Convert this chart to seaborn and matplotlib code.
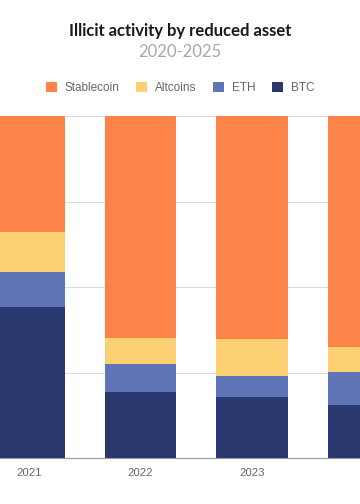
import numpy as np
import pandas as pd
import matplotlib
matplotlib.use("Agg")
import matplotlib.pyplot as plt
import seaborn as sns
from matplotlib.patches import Patch

# data (share of illicit volume, %)
years = ["2021", "2022", "2023", "2024"]
btc = [44.2, 19.4, 17.7, 15.5]
eth = [10.3, 8.2, 6.4, 9.6]
altcoins = [11.7, 7.6, 10.7, 7.5]
stablecoin = [33.8, 64.8, 65.1, 67.4]

series = ["Stablecoin", "Altcoins", "ETH", "BTC"]
colors = {"Stablecoin": "#FC8449", "Altcoins": "#FBCF72", "ETH": "#6075B8", "BTC": "#2A3870"}

df = pd.DataFrame({"year": years, "BTC": btc, "ETH": eth,
                   "Altcoins": altcoins, "Stablecoin": stablecoin})
# cumulative tops for stacking
df["top_BTC"] = df["BTC"]
df["top_ETH"] = df["top_BTC"] + df["ETH"]
df["top_Altcoins"] = df["top_ETH"] + df["Altcoins"]
df["top_Stablecoin"] = df["top_Altcoins"] + df["Stablecoin"]

sns.set_style("white")
plt.rcParams["font.family"] = ["Liberation Sans", "DejaVu Sans"]

fig = plt.figure(figsize=(3.6, 5.04), dpi=100)
ax = fig.add_axes([0, 1 - 458 / 504, 1, (458 - 116) / 504])

# draw from the tallest stack down so lower segments sit on top
for s in series:
    sns.barplot(data=df, x="year", y="top_" + s, color=colors[s],
                width=0.64, saturation=1, linewidth=0, edgecolor="none",
                ax=ax, zorder=2)

ax.set_ylim(0, 100)
ax.set_xlim(-0.26, 2.97)
ax.set_yticks([0, 25, 50, 75, 100])
ax.yaxis.grid(True, color="#DCDCDC", linewidth=0.8, zorder=0)
ax.set_axisbelow(True)
ax.set_ylabel("")
ax.set_xlabel("")
ax.set_yticklabels([])
ax.tick_params(axis="y", length=0)
ax.tick_params(axis="x", length=0, pad=7, labelsize=8.2, labelcolor="#666666")
for side in ["top", "left", "right"]:
    ax.spines[side].set_visible(False)
ax.spines["bottom"].set_color("#999999")
ax.spines["bottom"].set_linewidth(0.8)

fig.text(0.5, 1 - 31 / 504, "Illicit activity by reduced asset", ha="center", va="center",
         fontsize=12, fontweight="bold", color="#1a1a1a", family=["Lato", "DejaVu Sans"])
fig.text(0.5, 1 - 52 / 504, "2020-2025", ha="center", va="center",
         fontsize=12, color="#a8a8a8", family=["Lato", "DejaVu Sans"])

handles = [Patch(facecolor=colors[s], edgecolor="none", label=s) for s in series]
fig.legend(handles=handles, loc="center", bbox_to_anchor=(0.5, 1 - 88 / 504), ncol=4,
           frameon=False, fontsize=8.5, handlelength=0.95, handleheight=0.95,
           columnspacing=1.35, handletextpad=0.7, labelcolor="#666666")

fig.savefig("out.png", dpi=100, facecolor="white")
